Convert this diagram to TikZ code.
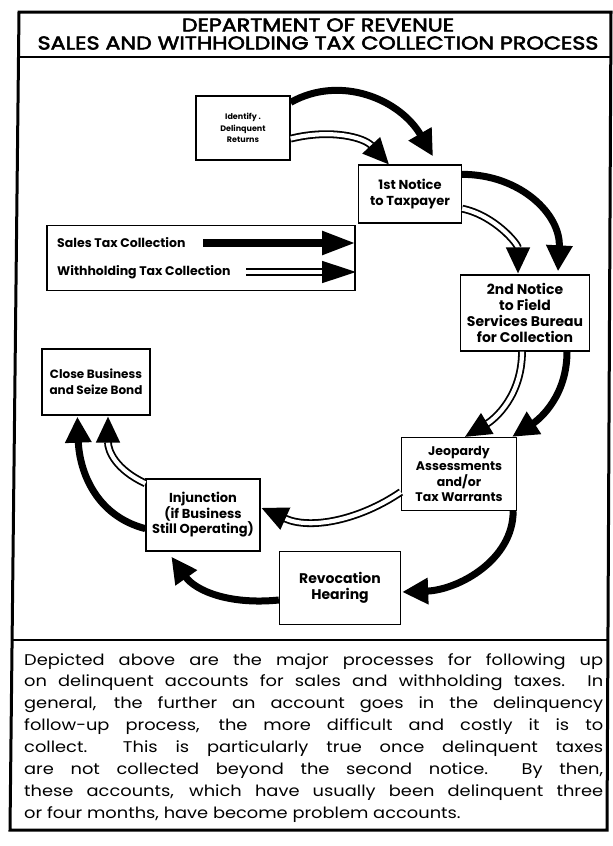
\documentclass[tikz,border=0pt]{standalone}
\usepackage{fontspec}
\setmainfont{Poppins}
\newfontfamily\headfont{Poppins}[FakeStretch=1.2, FakeBold=3]
\newfontfamily\notefont{Poppins}[FakeStretch=1.15]
\usetikzlibrary{arrows.meta,calc}
\begin{document}
\begin{tikzpicture}[x=1pt,y=-1pt,
  stage/.style={draw, line width=1.3pt, align=center, inner sep=1pt,
    font=\bfseries\fontsize{13}{15.5}\selectfont},
  sales/.style={line width=7pt, -{Triangle[length=26pt,width=25pt]}},
  withh/.style={draw=black, double=white, line width=1.8pt, double distance=4.2pt,
    -{Triangle[length=26pt,width=24pt]}},
  keysales/.style={line width=8pt, -{Triangle[length=34pt,width=22pt]}},
  keywithh/.style={draw=black, double=white, line width=1.6pt, double distance=4.4pt,
    -{Triangle[length=34pt,width=22pt]}},
  keytext/.style={anchor=west, inner sep=0, font=\bfseries\fontsize{12.5}{14}\selectfont},
  frame/.style={line width=3pt, line join=miter},
  rule/.style={line width=2.2pt}
]
\useasboundingbox (0,0) rectangle (613,846);

% outer frame and dividing rules
\draw[frame] (19,12) -- (611,12) -- (607,830) -- (10,830) -- cycle;
\draw[rule] (18.5,57) -- (610.7,57);
\draw[rule] (12,640) -- (608,640);

% heading
\node[align=center, inner sep=0, font=\headfont\fontsize{18.5}{18}\selectfont] (title) at (318,34)
  {DEPARTMENT OF REVENUE\\SALES AND WITHHOLDING TAX COLLECTION PROCESS};

% process stages
\node[stage, minimum width=94pt, minimum height=64pt, font=\bfseries\fontsize{8}{11.5}\selectfont]
  (idn) at (243,128) {Identify .\\Delinquent\\Returns};
\node[stage, minimum width=103pt, minimum height=58pt, font=\bfseries\fontsize{13}{16}\selectfont]
  (fst) at (410,194) {1st Notice\\to Taxpayer};
\node[stage, minimum width=129pt, minimum height=76pt, font=\bfseries\fontsize{14}{16}\selectfont]
  (snd) at (525,313) {2nd Notice\\to Field\\Services Bureau\\for Collection};
\node[stage, minimum width=115pt, minimum height=73pt, font=\bfseries\fontsize{12.5}{15.5}\selectfont]
  (jeo) at (459,474) {Jeopardy\\Assessments\\and/or\\Tax Warrants};
\node[stage, minimum width=121pt, minimum height=73pt, font=\bfseries\fontsize{14}{16.5}\selectfont]
  (rev) at (340,588) {Revocation\\Hearing};
\node[stage, minimum width=114pt, minimum height=72pt] (inj) at (203,515)
  {Injunction\\(if Business\\Still Operating)};
\node[stage, minimum width=108pt, minimum height=66pt, font=\bfseries\fontsize{12}{16}\selectfont]
  (cls) at (96,382) {Close Business\\and Seize Bond};

% key
\node[draw, line width=1.3pt, minimum width=308pt, minimum height=65pt] (key) at (201,258) {};
\node[keytext] (ksales) at (57,243) {Sales Tax Collection};
\node[keytext] (kwithh) at (57,272) {Withholding Tax Collection};
\coordinate (ks0) at (203,243);
\coordinate (ks1) at (356,243);
\coordinate (kw0) at (246,272);
\coordinate (kw1) at (356,272);
\draw[keysales] (ks0) -- (ks1);
\draw[keywithh] (kw0) -- (kw1);

% sales tax path
\draw[sales] ($(idn.north east)+(0,7)$) .. controls +(50,-28) and +(-33,-57) .. ($(fst.north)+(23,-8)$);
\draw[sales] ($(fst.north east)+(0,10)$) .. controls +(58,0) and +(3,-57) .. ($(snd.north)+(33,-3)$);
\draw[sales] ($(snd.south)+(42,0)$) .. controls +(0,44) and +(28,-18) .. ($(jeo.north east)+(-5,0)$);
\draw[sales] ($(jeo.south east)+(-4,0)$) .. controls +(0,49) and +(56,-2) .. ($(rev.east)+(1,4)$);
\draw[sales] ($(rev.west)+(0,12)$) .. controls +(-50,5) and +(24,34) .. ($(inj.south west)+(26,5)$);
\draw[sales] ($(inj.south west)+(0,-23)$) .. controls +(-50,-13) and +(2,54) .. ($(cls.south west)+(36,1)$);

% withholding tax path
\draw[withh] ($(idn.south east)+(0,-22)$) .. controls +(40,-10) and +(-25,-27) .. ($(fst.north west)+(31,0)$);
\draw[withh] ($(fst.south east)+(0,-15)$) .. controls +(33,7) and +(0,-29) .. ($(snd.north)+(-7,-1)$);
\draw[withh] ($(snd.south)+(-3,0)$) .. controls +(0,44) and +(30,-18) .. ($(jeo.north)+(6,0)$);
\draw[withh] ($(jeo.west)+(0,18)$) .. controls +(-41,28) and +(49,22) .. ($(inj.east)+(1,-7)$);
\draw[withh] ($(inj.north west)+(0,5)$) .. controls +(-30,-14) and +(0,34) .. ($(cls.south)+(12,1)$);

% explanatory note
\node[anchor=north west, inner sep=0, align=left, font=\notefont\fontsize{15.5}{21.9}\selectfont] (note) at (24,653)
  {\makebox[579pt][s]{Depicted above are the major processes for following up}\\
   \makebox[579pt][s]{on delinquent accounts for sales and withholding taxes.\ \ In}\\
   \makebox[579pt][s]{general, the further an account goes in the delinquency}\\
   \makebox[579pt][s]{follow-up process, the more difficult and costly it is to}\\
   \makebox[579pt][s]{collect.\ \ This is particularly true once delinquent taxes}\\
   \makebox[579pt][s]{are not collected beyond the second notice.\ \ By then,}\\
   \makebox[579pt][s]{these accounts, which have usually been delinquent three}\\
   or four months, have become problem accounts.};
\end{tikzpicture}
\end{document}
